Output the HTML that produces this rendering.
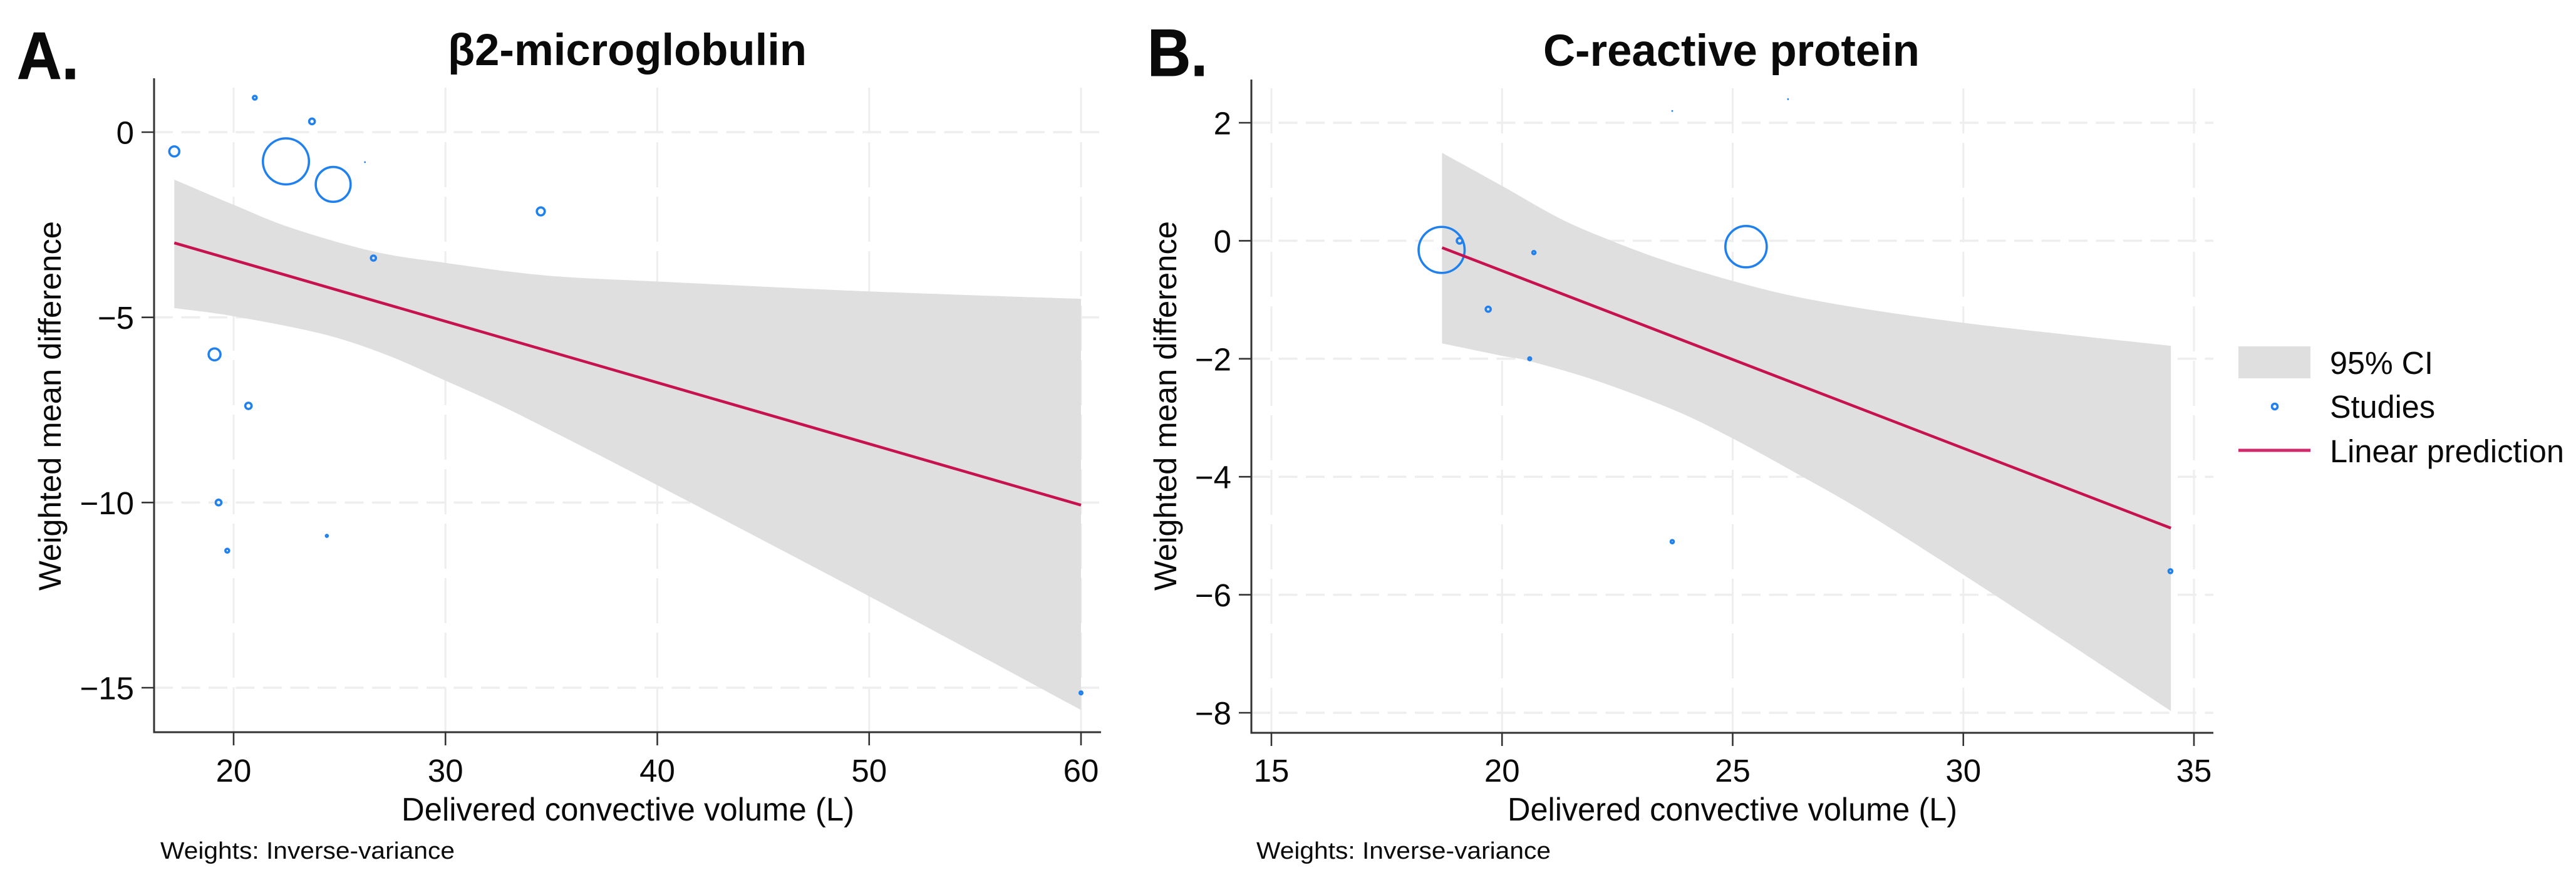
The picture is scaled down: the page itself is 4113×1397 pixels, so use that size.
<!DOCTYPE html>
<html lang="en">
<head>
<meta charset="utf-8">
<title>Meta-regression: β2-microglobulin and C-reactive protein</title>
<style>
html,body{margin:0;padding:0;background:#fff;}
svg{display:block;font-family:"Liberation Sans",Arial,sans-serif;}
text{fill:#0a0a0a;}
</style>
</head>
<body>
<svg id="chart" xmlns="http://www.w3.org/2000/svg" width="4113" height="1397" viewBox="0 0 4113 1397">
  <rect x="0" y="0" width="4113" height="1397" fill="#ffffff"/>
  <g id="panel-a"></g>
  <g id="panel-b"></g>

  <text x="27" y="126" font-size="107" font-weight="700" textLength="99" lengthAdjust="spacingAndGlyphs" stroke="#0a0a0a" stroke-width="1">A.</text>
  <text x="1832" y="121" font-size="107" font-weight="700" textLength="96" lengthAdjust="spacingAndGlyphs" stroke="#0a0a0a" stroke-width="1">B.</text>

  <text x="715" y="104" font-size="71" font-weight="700" textLength="573" lengthAdjust="spacingAndGlyphs">β2-microglobulin</text>
  <text x="2464" y="105" font-size="71" font-weight="700" textLength="601" lengthAdjust="spacingAndGlyphs">C-reactive protein</text>

  <text transform="translate(97 943) rotate(-90)" x="0" y="0" font-size="50.5" textLength="590" lengthAdjust="spacingAndGlyphs">Weighted mean difference</text>
  <text transform="translate(1878 943) rotate(-90)" x="0" y="0" font-size="50.5" textLength="590" lengthAdjust="spacingAndGlyphs">Weighted mean difference</text>

  <text x="641" y="1310" font-size="52" textLength="723" lengthAdjust="spacingAndGlyphs">Delivered convective volume (L)</text>
  <text x="2407" y="1310" font-size="52" textLength="718" lengthAdjust="spacingAndGlyphs">Delivered convective volume (L)</text>

  <text x="256" y="1371" font-size="38" textLength="470" lengthAdjust="spacingAndGlyphs">Weights: Inverse-variance</text>
  <text x="2006" y="1371" font-size="38" textLength="470" lengthAdjust="spacingAndGlyphs">Weights: Inverse-variance</text>

  <g>
    <rect x="3574" y="553" width="115" height="51" fill="#dfdfdf"/>
    <text x="3720" y="597" font-size="51" textLength="165" lengthAdjust="spacingAndGlyphs">95% CI</text>
    <circle cx="3632" cy="649" r="4.5" fill="none" stroke="#1f80ee" stroke-width="3.6"/>
    <text x="3720" y="667" font-size="51" textLength="168" lengthAdjust="spacingAndGlyphs">Studies</text>
    <line x1="3574" y1="719" x2="3689" y2="719" stroke="#d1286b" stroke-width="5"/>
    <text x="3720" y="738" font-size="51" textLength="374" lengthAdjust="spacingAndGlyphs">Linear prediction</text>
  </g>
</svg>
<script>
// Panel A: beta-2 microglobulin
var aXTicks = [20, 30, 40, 50, 60];
var aYTicks = [0, -5, -10, -15];
var aStudyX = [17.2, 21.0, 23.7, 22.47, 24.7, 26.2, 26.6, 34.5, 19.1, 20.7, 19.29, 19.7, 24.4, 60.0];
var aStudyY = [-0.52, 0.93, 0.29, -0.79, -1.41, -0.81, -3.4, -2.14, -6.0, -7.39, -10.0, -11.3, -10.9, -15.14];
var aStudyWeight = [2.56, 0.36, 0.81, 54, 31, 0.02, 0.64, 1.6, 3.6, 1.0, 0.81, 0.36, 0.09, 0.2];
var aFitX = [17.2, 60];
var aFitY = [-2.99, -10.07];
var aUpperX = [17.2, 20, 22.7, 26.6, 30, 34.75, 40.3, 50, 60];
var aUpperY = [-1.28, -1.96, -2.58, -3.22, -3.53, -3.87, -4.04, -4.3, -4.5];
var aLowerX = [17.2, 20, 24.2, 27.2, 30, 32.34, 34.75, 40.3, 50, 60];
var aLowerY = [-4.75, -4.97, -5.45, -6.01, -6.71, -7.31, -7.99, -9.62, -12.53, -15.6];

// Panel B: C-reactive protein
var bXTicks = [15, 20, 25, 30, 35];
var bYTicks = [2, 0, -2, -4, -6, -8];
var bStudyX = [18.69, 19.08, 20.69, 19.7, 20.6, 23.69, 26.2, 25.29, 23.69, 34.49];
var bStudyY = [-0.155, 0.0, -0.2, -1.16, -2.0, 2.2, 2.4, -0.1, -5.1, -5.6];
var bStudyWeight = [54, 0.81, 0.25, 0.64, 0.2, 0.02, 0.02, 43.6, 0.25, 0.36];
var bFitX = [18.7, 34.5];
var bFitY = [-0.117, -4.87];
var bUpperX = [18.7, 20, 21.25, 22.34, 23.55, 25, 26.27, 27.9, 30, 32, 34.5];
var bUpperY = [1.49, 0.93, 0.38, 0.01, -0.34, -0.68, -0.93, -1.16, -1.39, -1.57, -1.78];
var bLowerX = [18.7, 20, 20.6, 22.04, 23.73, 25, 26.4, 27.9, 30, 32, 34.5];
var bLowerY = [-1.74, -1.95, -2.04, -2.37, -2.87, -3.35, -3.95, -4.62, -5.66, -6.68, -7.97];

var SVG_NS = 'http://www.w3.org/2000/svg';
var SPINE = '#333333';
var GRID = '#eeeeee';

function linearScale(d0, d1, p0, p1) {
  return function (v) { return p0 + (v - d0) * (p1 - p0) / (d1 - d0); };
}

function make(parent, tag, attrs) {
  var el = document.createElementNS(SVG_NS, tag);
  for (var k in attrs) { el.setAttribute(k, attrs[k]); }
  parent.appendChild(el);
  return el;
}

function fmt(v) { return String(v).replace('-', '\u2212'); }

// Smooth Catmull-Rom segments through a list of [px, py] pairs.
function smoothSegments(pts) {
  var d = '';
  for (var i = 0; i < pts.length - 1; i++) {
    var p0 = pts[Math.max(i - 1, 0)];
    var p1 = pts[i];
    var p2 = pts[i + 1];
    var p3 = pts[Math.min(i + 2, pts.length - 1)];
    d += ' C' + (p1[0] + (p2[0] - p0[0]) / 6) + ' ' + (p1[1] + (p2[1] - p0[1]) / 6) +
         ' ' + (p2[0] - (p3[0] - p1[0]) / 6) + ' ' + (p2[1] - (p3[1] - p1[1]) / 6) +
         ' ' + p2[0] + ' ' + p2[1];
  }
  return d;
}

function drawPanel(root, p) {
  var i, el, px, py;
  var xs = p.xScale, ys = p.yScale;

  // vertical gridlines
  for (i = 0; i < p.xTicks.length; i++) {
    px = xs(p.xTicks[i]);
    el = make(root, 'line', {x1: px, x2: px, y1: p.bottom, y2: p.gridTop, stroke: GRID, 'stroke-width': 3, 'stroke-dasharray': '72 15'});
    
    
  }
  // horizontal gridlines
  for (i = 0; i < p.yTicks.length; i++) {
    py = ys(p.yTicks[i]);
    el = make(root, 'line', {x1: p.left, x2: p.right, y1: py, y2: py, stroke: GRID, 'stroke-width': 3.5, 'stroke-dasharray': '30 13.5'});
    
    
  }

  // confidence band
  var up = [], low = [];
  for (i = 0; i < p.upperX.length; i++) { up.push([xs(p.upperX[i]), ys(p.upperY[i])]); }
  for (i = p.lowerX.length - 1; i >= 0; i--) { low.push([xs(p.lowerX[i]), ys(p.lowerY[i])]); }
  var bandPath = 'M' + up[0][0] + ' ' + up[0][1] + smoothSegments(up) +
                 ' L' + low[0][0] + ' ' + low[0][1] + smoothSegments(low) + ' Z';
  el = make(root, 'path', {d: bandPath, fill: '#dfdfdf'});
  
  

  // study bubbles
  for (i = 0; i < p.studyX.length; i++) {
    var r = 5 * Math.sqrt(p.studyWeight[i]);
    el = make(root, 'circle', {cx: xs(p.studyX[i]), cy: ys(p.studyY[i]), r: r, fill: 'none', stroke: '#1f80ee', 'stroke-width': r < 1 ? 1.4 : 3.6});
    
    
  }

  // linear prediction
  el = make(root, 'line', {x1: xs(p.fitX[0]), y1: ys(p.fitY[0]), x2: xs(p.fitX[1]), y2: ys(p.fitY[1]), stroke: '#c6124f', 'stroke-width': 4.5});
  
  

  // spines
  el = make(root, 'line', {x1: p.left, x2: p.left, y1: p.top, y2: p.bottom + 1.5, stroke: SPINE, 'stroke-width': 3});
  
  
  el = make(root, 'line', {x1: p.left, x2: p.right, y1: p.bottom, y2: p.bottom, stroke: SPINE, 'stroke-width': 3});
  
  

  // x ticks and labels
  for (i = 0; i < p.xTicks.length; i++) {
    px = xs(p.xTicks[i]);
    el = make(root, 'line', {x1: px, x2: px, y1: p.bottom, y2: p.bottom + 21, stroke: SPINE, 'stroke-width': 2.6});
    
    
    el = make(root, 'text', {x: px, y: 1248, 'font-size': 51, 'text-anchor': 'middle'});
    el.textContent = fmt(p.xTicks[i]);
    
    
  }
  // y ticks and labels
  for (i = 0; i < p.yTicks.length; i++) {
    py = ys(p.yTicks[i]);
    el = make(root, 'line', {x1: p.left - 20, x2: p.left, y1: py, y2: py, stroke: SPINE, 'stroke-width': 2.6});
    
    
    el = make(root, 'text', {x: p.left - 32, y: py + 18.5, 'font-size': 51, 'text-anchor': 'end'});
    el.textContent = fmt(p.yTicks[i]);
    
    
  }
}

drawPanel(document.getElementById('panel-a'), {
  xScale: linearScale(20, 60, 373, 1726),
  yScale: linearScale(0, -15, 211, 1098),
  left: 246, right: 1758, top: 125, bottom: 1169, gridTop: 136,
  xTicks: aXTicks, yTicks: aYTicks,
  studyX: aStudyX, studyY: aStudyY, studyWeight: aStudyWeight,
  fitX: aFitX, fitY: aFitY,
  upperX: aUpperX, upperY: aUpperY, lowerX: aLowerX, lowerY: aLowerY
});

drawPanel(document.getElementById('panel-b'), {
  xScale: linearScale(15, 35, 2030, 3503),
  yScale: linearScale(2, -8, 196, 1138),
  left: 1998, right: 3534, top: 127, bottom: 1170, gridTop: 138,
  xTicks: bXTicks, yTicks: bYTicks,
  studyX: bStudyX, studyY: bStudyY, studyWeight: bStudyWeight,
  fitX: bFitX, fitY: bFitY,
  upperX: bUpperX, upperY: bUpperY, lowerX: bLowerX, lowerY: bLowerY
});
</script>
</body>
</html>
